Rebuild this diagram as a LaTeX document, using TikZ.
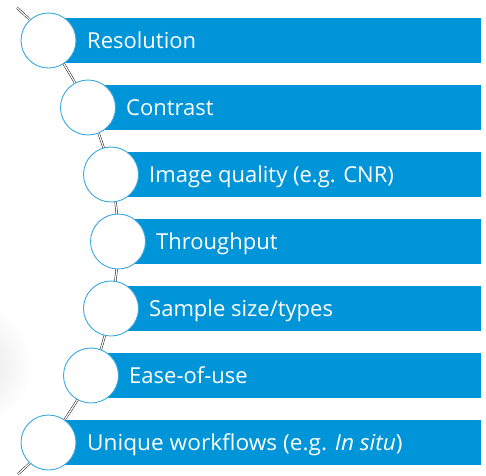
\documentclass[tikz,border=0pt]{standalone}
\usepackage{fontspec}
\setmainfont{Open Sans}
\definecolor{barblue}{HTML}{0094D9}
\definecolor{ringblue}{HTML}{3AA8E0}
\begin{document}
\begin{tikzpicture}[x=1pt,y=-1pt,
  bar/.style={fill=barblue},
  ring/.style={circle,draw=ringblue,fill=white,line width=0.9pt,minimum size=55pt,inner sep=0pt},
  lbl/.style={anchor=base west,text=white,inner sep=0pt,font=\fontsize{22}{26}\selectfont},
  chain/.style={draw=black,line width=0.45pt,double=white,double distance=1.3pt}]
\useasboundingbox (0,0) rectangle (486,475);
\begin{scope}
\clip (0,0) rectangle (486,475);
\shade[inner color=black!11,outer color=white] (-30,365) circle (62);
\end{scope}
% circle centres
\coordinate (s) at (17,8);
\coordinate (p1) at (48.5,40.5);
\coordinate (p2) at (88,107.5);
\coordinate (p3) at (111,174.5);
\coordinate (p4) at (118,241.5);
\coordinate (p5) at (111,308.5);
\coordinate (p6) at (91,375.5);
\coordinate (p7) at (48.5,442.5);
\coordinate (e) at (18,474);
% chain
\draw[chain] plot[smooth,tension=0.55] coordinates {(s) (p1) (p2) (p3) (p4) (p5) (p6) (p7) (e)};
% bars
\foreach \x/\y in {48.5/40.5,88/107.5,111/174.5,118/241.5,111/308.5,91/375.5,48.5/442.5}
  \fill[bar] (\x,\y-22.5) rectangle (481,\y+22.5);
% circles
\foreach \i in {1,...,7} \node[ring] (c\i) at (p\i) {};
% labels
\node[lbl] (t1) at (87,48) {Resolution};
\node[lbl] (t2) at (126,115) {Contrast};
\node[lbl] (t3) at (149,182) {Image quality (e.g. CNR)};
\node[lbl] (t4) at (156,249) {Throughput};
\node[lbl] (t5) at (149,316) {Sample size/types};
\node[lbl] (t6) at (129,383) {Ease-of-use};
\node[lbl] (t7) at (87,450) {\scalebox{1.03}[1]{Unique workflows (e.g. \textit{In situ})}};
\end{tikzpicture}
\end{document}
